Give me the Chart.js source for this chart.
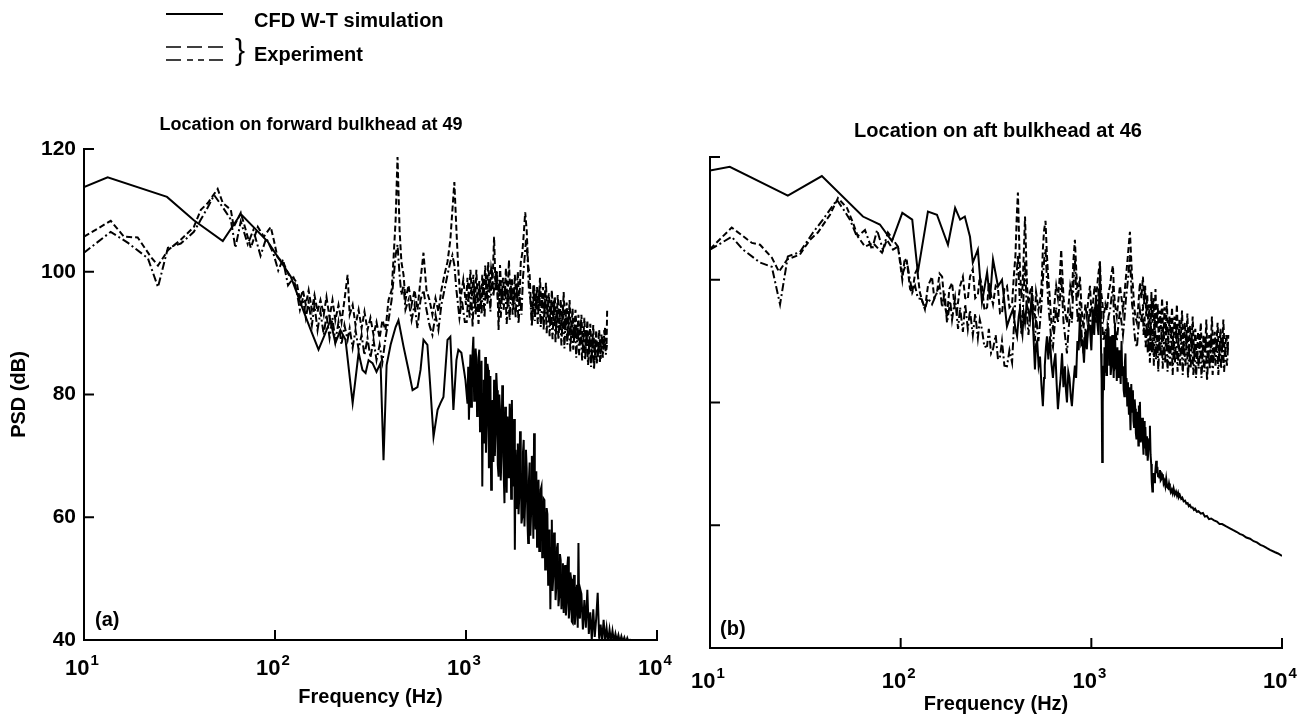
<!DOCTYPE html>
<html>
<head>
<meta charset="utf-8">
<script src="https://cdn.jsdelivr.net/npm/chart.js@4.4.1/dist/chart.umd.min.js"></script>
<style>
html, body { margin: 0; padding: 0; background: #fff; }
#wrap { position: relative; width: 1312px; height: 721px; overflow: hidden; background: #fff;
        font-family: "Liberation Sans", Arial, sans-serif; font-weight: bold; color: #000; }
canvas { position: absolute; left: 0; top: 0; }
.txt { position: absolute; white-space: nowrap; font-size: 20px; line-height: 24px; }
svg { position: absolute; left: 0; top: 0; }
</style>
</head>
<body>
<div id="wrap">
  <canvas id="chartA" width="1312" height="721"></canvas>
  <canvas id="chartB" width="1312" height="721"></canvas>
  <svg width="260" height="80">
    <line x1="166" y1="14" x2="223" y2="14" stroke="#000" stroke-width="1.8"/>
    <line x1="166" y1="47" x2="223" y2="47" stroke="#000" stroke-width="1.6" stroke-dasharray="15 6"/>
    <line x1="166" y1="60" x2="223" y2="60" stroke="#000" stroke-width="1.6" stroke-dasharray="15 6 6 5 6 5 15"/>
  </svg>
  <div class="txt" id="lg1" style="left:254px; top:8px;"></div>
  <div class="txt" style="left:235px; top:35px; font-size:30px; font-weight:normal; line-height:30px;">}</div>
  <div class="txt" id="lg2" style="left:254px; top:42px;"></div>
  <div class="txt" id="titleA" style="left:111px; top:112px; width:400px; text-align:center; font-size:18px;"></div>
  <div class="txt" id="titleB" style="left:798px; top:118px; width:400px; text-align:center;"></div>
  <div class="txt" style="left:95px; top:607px;">(a)</div>
  <div class="txt" style="left:720px; top:616px;">(b)</div>
</div>
<script>
// ---------------- data ----------------
const SERIES_LABELS = ['CFD W-T simulation', 'Experiment', 'Experiment'];
const LEGEND_TEXT = ['CFD W-T simulation', 'Experiment'];
const PANEL_TITLES = ['Location on forward bulkhead at 49', 'Location on aft bulkhead at 46'];
const X_TITLE = 'Frequency (Hz)';
const Y_TITLE = 'PSD (dB)';
const X_TICK_VALUES = [10, 100, 1000, 10000];
const Y_TICK_VALUES = [40, 60, 80, 100, 120];

// Panel (a): [frequency Hz, PSD dB]
const A_CFD = [
[10,113.8],[13.3,115.4],[27.2,112.2],[37.6,108.4],[53.3,105.0],[66.2,109.4],[91.6,104.9],[121,99.2],
[145,92.6],[154,90.5],[169,87.3],[182,89.7],[195,92.1],[207,88.4],[220,90.5],[234,88.9],[255,78.6],[274,86.8],
[287,84.0],[298,83.5],[309,85.6],[324,85.1],[340,83.7],[357,85.1],[370,69.3],[384,84.8],[403,88.1],[428,91.0],
[443,92.1],[471,87.8],[500,84.0],[525,80.7],[557,81.2],[578,84.0],[599,88.9],[628,88.1],[652,80.7],[676,73.1],
[710,77.5],[735,78.6],[762,79.6],[800,88.9],[828,89.4],[859,77.5],[891,85.6],[912,87.3],[946,86.8],[993,82.4],
[1018,78.5],[1027,84.5],[1036,75.9],[1045,82.0],[1055,86.5],[1064,78.0],[1074,81.0],[1083,87.0],[1093,89.4],
[1103,79.0],[1113,80.5],[1123,87.5],[1133,85.6],[1143,76.5],[1153,78.0],[1163,86.0],[1174,87.3],[1184,74.0],
[1195,79.1],[1206,85.5],[1217,65.0],[1228,80.0],[1239,82.4],[1250,72.0],[1261,86.1],[1272,70.5],[1284,75.9],
[1295,85.0],[1307,84.0],[1318,68.0],[1330,70.5],[1342,83.0],[1354,64.5],[1366,78.0],[1379,79.1],[1391,69.0],
[1403,82.4],[1416,70.0],[1429,74.2],[1441,83.5],[1454,80.7],[1467,68.5],[1481,66.6],[1494,80.0],[1507,77.5],
[1520,66.0],[1534,70.0],[1548,81.5],[1562,79.6],[1576,67.0],[1590,62.3],[1604,78.0],[1619,74.2],[1633,64.0],
[1648,76.4],[1663,66.5],[1678,68.5],[1693,78.5],[1708,75.9],[1723,63.0],[1739,79.1],[1754,65.0],[1770,67.7],
[1786,76.0],[1802,54.7],[1818,71.0],[1834,67.7],[1850,61.5],[1867,72.0],[1884,60.5],[1901,63.5],[1918,74.0],
[1935,69.8],[1952,59.0],[1970,60.0],[1987,70.5],[2005,72.6],[2023,58.5],[2041,62.8],[2060,71.0],[2078,68.0],
[2097,59.5],[2116,55.8],[2135,66.0],[2154,68.9],[2173,57.0],[2193,61.0],[2212,70.0],[2232,66.5],[2252,56.5],
[2272,73.7],[2292,62.0],[2313,58.0],[2334,67.5],[2355,55.2],[2376,63.5],[2397,66.1],[2418,54.5],[2440,59.0],
[2462,64.5],[2484,65.0],[2506,53.5],[2529,57.9],[2551,63.0],[2574,62.8],[2597,51.5],[2621,54.0],[2644,61.5],
[2668,60.5],[2692,49.0],[2716,52.5],[2740,58.0],[2765,45.0],[2789,55.0],[2814,59.6],[2839,48.0],[2865,50.5],
[2891,57.5],[2917,56.8],[2943,46.5],[2969,48.5],[2995,55.0],[3022,55.8],[3049,45.5],[3077,47.0],[3104,54.0],
[3132,53.0],[3160,45.0],[3188,49.8],[3217,52.5],[3246,44.4],[3275,51.0],[3304,52.2],[3334,44.0],[3364,46.0],
[3394,52.0],[3424,53.6],[3455,43.5],[3486,45.0],[3517,51.0],[3548,50.0],[3580,43.0],[3612,42.8],[3644,49.0],
[3677,50.6],[3710,42.5],[3743,44.0],[3777,48.5],[3811,49.0],[3845,42.0],[3879,55.8],[3914,44.5],[3949,43.5],
[3984,48.0],[4020,47.5],[4093,41.7],[4166,46.5],[4241,42.0],
[4318,48.2],[4395,41.0],[4474,44.5],[4555,40.0],[4637,45.0],[4720,40.5],[4805,43.5],[4892,47.7],[4980,40.2],
[5069,42.5],[5161,39.8],[5254,43.3],[5348,40.0],[5445,42.0],[5543,39.6],[5642,41.7],[5744,39.8],[5847,41.5],
[5953,39.7],[6060,41.0],[6169,39.8],[6280,40.8],[6393,39.6],[6508,40.6],[6625,39.7],[6745,40.4],[6866,39.6],
[6990,40.3],[7115,39.6],[7243,40.0],[7374,39.8]
];
const A_EXP1 = [
[10,105.7],[13.8,108.3],[16.2,105.7],[19.1,105.6],[22.4,102.4],[24.4,101.0],[27.5,103.5],[32.1,105.2],[37.6,107.3],
[40.9,110.1],[44.5,111.2],[50.1,113.5],[53.3,111.2],[58.7,110.1],[60.8,107.3],[66.2,109.6],[70.3,106.8],[74.7,103.9],
[81.3,107.3],[87.4,105.7],[95.0,107.3],[98.5,105.2],[103,102.4],[111,101.4],[118,99.5],[125,99.0],
[130,98.2],[135,95.4],[140,97.0],[145,94.6],[150,97.0],[156,93.8],[161,96.2],[167,93.5],[173,95.4],[180,93.0],
[186,95.9],[193,92.5],[200,95.4],[207,92.1],[215,94.6],[223,91.8],[231,95.4],[240,99.5],[246,93.0],[255,94.6],
[264,91.3],[274,93.8],[284,90.8],[294,93.5],[305,90.5],[316,92.5],[328,89.7],[340,91.8],[353,89.2],[365,92.1],
[379,90.5],[393,95.4],[408,97.0],[417,101.9],[428,108.4],[438,118.7],[449,106.8],[459,101.6],[471,99.5],[482,95.4],
[500,97.8],[519,94.6],[538,97.0],[557,93.8],[578,98.7],[599,103.1],[621,97.0],[644,95.4],[667,93.0],[692,95.7],
[717,93.5],[743,97.0],[771,99.5],[800,101.6],[828,105.2],[849,110.1],[869,114.6],[891,106.8],[912,100.3],[935,95.4],
[968,98.7],[1000,94.6],[1018,99.0],[1036,95.5],[1055,100.3],[1074,96.0],[1093,99.5],[1113,94.0],[1133,100.3],
[1153,95.0],[1174,98.5],[1195,93.8],[1217,99.5],[1239,96.2],[1261,101.0],[1284,95.5],[1307,101.6],[1330,97.0],
[1354,100.5],[1379,98.7],[1403,105.7],[1429,97.0],[1454,100.0],[1481,90.5],[1507,101.1],[1534,95.5],[1562,99.0],
[1590,96.0],[1619,100.6],[1648,94.5],[1678,101.9],[1708,95.4],[1739,99.0],[1770,94.0],[1802,99.5],[1834,95.4],
[1867,100.0],[1901,94.5],[1935,101.5],[1970,103.0],[2005,106.0],[2041,109.7],[2078,106.8],[2116,101.0],[2154,99.5],
[2193,94.0],[2232,92.1],[2272,97.8],[2313,94.0],[2355,97.5],[2397,93.5],[2440,99.0],[2484,94.0],[2529,97.5],
[2574,92.5],[2621,98.2],[2668,93.0],[2716,96.5],[2765,91.5],[2814,97.0],[2865,92.0],[2917,96.0],[2969,90.5],
[3022,96.2],[3077,91.3],[3132,95.5],[3188,90.0],[3246,96.7],[3304,90.5],[3364,95.0],[3424,89.5],[3486,95.4],
[3548,89.7],[3612,94.0],[3677,88.5],[3743,93.8],[3811,89.0],[3879,93.0],[3949,88.0],[4020,93.0],[4093,87.3],
[4166,92.5],[4241,87.0],[4318,92.1],[4395,86.4],[4474,91.5],[4555,86.0],[4637,91.3],[4720,85.6],[4805,90.5],
[4892,86.0],[4980,90.5],[5069,85.8],[5161,89.5],[5254,87.3],[5348,91.0],[5445,88.0],[5483,93.8]
];
const A_EXP2 = [
[10,103.1],[13.8,106.5],[17.0,104.7],[21.6,102.2],[24.4,97.5],[27.5,103.9],[32.1,104.6],[37.6,106.5],[40.9,108.5],
[44.5,110.5],[48.0,112.5],[53.3,110.5],[58.7,108.5],[62.0,103.9],[66.2,108.2],[72.0,104.5],[77.0,106.8],[84.0,102.6],
[90.0,105.5],[98.0,103.0],[104,100.2],[110,102.0],[117,97.8],[125,99.0],
[130,96.7],[135,93.8],[140,95.7],[145,92.5],[150,95.0],[156,91.3],[161,94.6],[167,90.5],[173,93.5],[180,89.7],
[186,93.0],[193,89.2],[200,92.5],[207,88.6],[215,91.8],[223,88.1],[231,91.3],[240,88.9],[246,90.8],[255,87.6],
[264,90.5],[274,87.3],[284,89.7],[294,86.4],[305,89.2],[316,86.0],[328,88.9],[340,85.6],[353,88.1],[365,85.3],
[379,89.2],[393,92.1],[408,95.4],[417,98.7],[428,102.7],[438,104.4],[449,99.5],[459,96.2],[471,97.8],[482,93.8],
[500,95.4],[519,92.1],[538,94.6],[557,90.8],[578,95.4],[599,97.0],[621,93.8],[644,91.3],[667,89.7],[692,93.0],
[717,90.5],[743,94.6],[771,97.0],[800,99.5],[828,101.6],[849,102.7],[869,101.1],[891,97.0],[924,92.5],[951,95.4],
[986,91.8],[1009,91.8],[1027,96.2],[1045,92.5],[1064,97.0],[1083,91.0],[1103,97.8],[1123,93.0],[1143,96.5],
[1163,91.5],[1184,97.0],[1206,93.0],[1228,98.0],[1250,92.5],[1272,98.7],[1295,94.6],[1318,99.0],[1342,93.5],
[1366,100.3],[1391,96.0],[1416,98.5],[1441,100.3],[1467,95.4],[1494,98.7],[1520,92.5],[1548,97.0],[1576,93.8],
[1604,97.8],[1633,91.5],[1663,96.5],[1693,92.1],[1723,98.7],[1754,93.0],[1786,97.0],[1818,92.5],[1850,97.5],
[1884,91.5],[1918,96.0],[1952,93.0],[1987,99.0],[2023,101.9],[2060,105.2],[2097,102.7],[2135,97.0],[2173,95.4],
[2212,91.0],[2252,97.8],[2292,92.0],[2334,96.5],[2376,91.5],[2418,97.0],[2462,91.0],[2506,96.0],[2551,90.5],
[2597,97.0],[2644,90.0],[2692,95.4],[2740,89.5],[2789,94.5],[2839,89.0],[2891,95.4],[2943,88.5],[2995,94.0],
[3049,88.9],[3104,93.5],[3160,88.0],[3217,94.6],[3275,87.5],[3334,93.0],[3394,88.1],[3455,93.8],[3517,87.0],
[3580,92.0],[3644,87.3],[3710,92.5],[3777,86.0],[3845,91.0],[3914,86.4],[3984,91.3],[4056,85.5],[4129,90.0],
[4203,85.6],[4279,90.5],[4356,84.8],[4434,89.5],[4514,84.5],[4596,89.7],[4678,84.0],[4762,89.2],[4848,85.0],
[4936,88.5],[5024,85.3],[5115,90.0],[5207,86.0],[5300,90.5],[5396,86.5],[5470,88.1]
];

// Panel (b): [frequency Hz, PSD dB]
const B_CFD = [
[10,117.8],[12.7,118.4],[25.6,113.7],[38.6,116.9],[63.4,110.3],[77.8,109.0],[90.0,106.3],[102,110.9],[115,109.8],
[123,101.2],[139,111.1],[155,110.6],[177,105.7],[193,111.7],[205,109.8],[217,110.3],[231,107.0],[239,102.8],[254,104.9],
[267,96.3],[284,101.2],[294,96.8],[305,103.3],[324,98.9],[340,100.0],[361,92.4],[375,94.0],[388,95.2],[400,92.0],
[408,90.8],[416,94.0],[422,95.2],[430,92.0],[435,91.0],[442,94.5],[449,93.0],[458,96.0],[468,95.0],[477,93.5],
[488,97.9],[497,91.0],[506,85.4],[513,89.5],[520,90.0],[529,86.0],[538,87.5],[547,83.0],[557,79.4],[565,84.0],
[570,86.0],[578,89.0],[585,90.8],[595,87.0],[606,90.8],[617,86.5],[629,84.0],[638,86.5],[648,88.0],[658,83.0],
[668,78.9],[678,81.5],[690,84.0],[702,88.0],[714,82.5],[727,85.9],[736,82.0],[745,80.0],[757,85.0],[768,84.0],
[780,81.0],[791,79.4],[805,83.0],[820,86.0],[832,84.0],[845,90.0],[858,88.5],[871,94.0],[885,89.5],[900,90.0],
[915,86.5],[930,91.5],[947,88.7],[965,93.0],[984,92.0],[1000,88.5],[1019,95.2],[1035,91.0],[1050,96.0],[1060,97.0],
[1075,93.0],[1090,91.0],[1100,98.0],[1109,102.8],[1118,95.0],[1125,88.0],[1132,84.0],[1140,70.3],[1148,80.0],
[1155,86.0],[1165,82.0],[1172,89.0],[1180,85.0],[1190,91.0],[1200,84.5],[1208,87.5],[1218,92.5],[1230,92.0],
[1240,86.0],[1253,90.8],[1263,84.5],[1275,86.0],[1287,91.0],[1298,88.0],[1310,84.0],[1320,90.5],[1330,93.0],
[1340,86.5],[1350,87.0],[1360,83.5],[1370,89.0],[1380,85.5],[1390,84.0],[1400,88.5],[1413,87.5],[1425,83.0],
[1440,90.0],[1452,84.5],[1465,85.9],[1478,82.0],[1490,81.0],[1500,86.5],[1510,88.0],[1520,82.0],[1530,84.0],
[1543,79.5],[1556,83.3],[1565,80.5],[1575,78.0],[1585,82.5],[1594,78.9],[1605,75.5],[1620,83.0],[1635,78.5],
[1652,82.0],[1663,77.0],[1675,76.0],[1688,80.5],[1700,79.0],[1712,75.0],[1725,74.0],[1740,78.5],[1754,76.8],
[1765,73.0],[1775,79.5],[1787,75.0],[1798,80.1],[1815,73.5],[1830,74.5],[1848,77.5],[1865,73.6],[1878,71.5],
[1890,77.0],[1905,72.5],[1920,76.0],[1940,71.5],[1958,74.5],[1975,70.5],[1990,72.0],[2010,74.0],[2029,76.2],
[2045,71.5],[2060,70.0],[2075,67.0],[2090,65.5],[2105,67.5],[2120,68.5],[2140,67.0],[2157,68.0],[2175,69.5],
[2190,70.5],[2205,68.5],[2220,69.5],[2238,68.0],[2255,68.5],[2272,67.8],[2291,69.0],[2310,67.3],[2330,67.5],
[2350,68.3],[2374,68.0],[2395,66.8],[2420,67.2],[2445,66.4],[2470,67.6],[2500,66.2],[2530,66.0],[2555,66.8],
[2582,66.0],[2610,65.4],[2640,65.8],[2670,65.2],[2700,66.0],[2740,65.0],[2780,65.5],[2815,64.8],[2850,65.3],
[2880,64.6],[2915,64.9],[2960,64.3],[3000,64.5],[3050,63.9],[3100,64.0],[3150,63.5],[3200,63.6],[3245,63.1],
[3289,63.3],[3340,62.9],[3400,62.9],[3450,62.5],[3500,62.7],[3575,62.2],[3650,62.3],[3750,61.9],[3848,62.0],
[3940,61.4],[4036,61.5],[4140,61.0],[4250,61.1],[4400,60.8],[4557,60.6],[4700,60.2],[4850,60.2],[5100,59.8],
[5330,59.5],[5550,59.2],[5800,58.9],[6000,58.6],[6237,58.4],[6500,58.0],[6800,57.8],[7100,57.4],[7382,57.2],
[7700,56.8],[8000,56.6],[8300,56.3],[8647,56.0],[9200,55.6],[9529,55.4],[10000,55.0]
];
const B_EXP1 = [
[10,105.0],[13.0,108.5],[16.6,106.0],[18.3,105.7],[21.1,103.6],[23.0,101.3],[25.4,103.3],[29.6,104.1],[33.4,106.5],
[36.8,107.7],[42.6,110.6],[46.9,113.3],[52.3,111.7],[56.2,109.3],[59.7,107.0],[65.0,105.4],[71.6,106.0],[79.8,104.4],
[84.7,106.5],[91.2,104.9],[96.8,105.4],
[102,100.0],[105,103.5],[108,102.8],[112,98.5],[115,97.9],[119,101.0],[122,101.7],[126,98.0],[129,96.8],[134,95.2],
[139,99.0],[146,100.5],[150,97.0],[155,97.9],[160,101.0],[165,100.5],[170,96.0],[175,94.0],[180,98.5],[186,99.5],
[192,95.5],[197,94.7],[205,99.0],[212,100.5],[218,97.0],[225,96.8],[231,100.5],[239,101.7],[246,97.0],[254,97.5],
[260,100.5],[267,99.0],[275,95.0],[284,95.5],[290,99.5],[298,97.5],[305,96.0],[315,99.0],[324,98.5],[332,94.5],
[340,94.5],[350,98.5],[361,99.0],[372,95.5],[384,96.0],[392,100.5],[400,104.0],[406,110.0],[412,114.2],[417,108.0],
[422,102.0],[430,97.0],[436,99.0],[442,104.0],[449,110.3],[455,104.0],[460,99.0],[468,96.0],[477,98.0],[488,99.0],
[497,95.0],[506,94.0],[513,98.0],[519,97.0],[528,95.0],[538,96.5],[548,99.0],[557,105.0],[565,108.0],[575,109.6],
[585,104.0],[595,100.0],[606,97.0],[617,93.0],[629,92.0],[640,96.0],[654,99.0],[668,97.0],[685,101.0],[695,104.9],
[702,102.0],[715,97.0],[727,95.0],[745,93.0],[760,96.0],[775,99.0],[791,97.5],[805,103.0],[820,106.5],[835,101.0],
[850,97.0],[871,100.5],[890,95.0],[910,92.0],[930,96.0],[947,94.0],[965,97.0],[984,99.0],[1000,95.0],[1019,96.0],
[1040,99.0],[1060,97.0],[1085,100.5],[1109,103.0],[1125,98.0],[1137,97.0],[1160,94.0],[1185,96.0],[1208,95.0],[1230,98.0],
[1253,99.0],[1275,101.0],[1298,102.3],[1315,98.0],[1330,96.0],[1360,94.0],[1390,97.0],[1413,99.0],[1440,97.0],[1465,95.0],
[1490,97.5],[1520,100.5],[1556,104.0],[1575,106.0],[1594,107.8],[1615,104.0],[1635,100.5],[1652,99.0],[1675,96.0],[1700,94.0],
[1734,93.0],[1765,96.0],[1798,99.5],[1830,97.0],[1865,100.5],[1890,96.0],[1915,99.0],[1940,94.0],[1965,97.5],[1990,92.0],
[2015,96.0],[2040,90.0],[2065,98.0],[2090,93.0],[2115,97.0],[2140,91.0],[2170,98.5],[2200,92.0],[2230,96.0],[2260,89.0],
[2290,95.0],[2320,92.0],[2350,97.0],[2385,90.0],[2420,95.5],[2455,91.0],[2490,96.5],[2530,89.5],[2570,94.0],[2610,90.5],
[2650,95.5],[2690,88.5],[2730,94.0],[2770,91.0],[2810,96.0],[2855,89.0],[2900,93.5],[2945,90.0],[2990,95.0],[3040,88.0],
[3090,93.0],[3140,89.5],[3190,94.5],[3240,87.5],[3290,92.5],[3345,89.0],[3400,94.0],[3455,88.0],[3510,92.0],[3570,87.0],
[3630,91.5],[3690,88.5],[3750,93.0],[3815,87.0],[3880,91.0],[3945,88.0],[4010,93.5],[4080,86.5],[4150,91.0],[4220,88.0],
[4290,94.0],[4365,87.0],[4440,91.5],[4515,88.5],[4595,93.0],[4675,87.0],[4755,92.0],[4840,88.0],[4925,93.5],[5010,87.5],
[5100,91.0],[5190,88.5],[5230,91.0]
];
const B_EXP2 = [
[10,104.9],[13.0,107.0],[14.9,104.9],[18.3,102.8],[21.1,102.1],[23.3,96.0],[25.6,103.8],[29.6,104.5],[34.7,107.7],
[39.1,109.8],[46.3,113.0],[50,111.5],[54.2,109.8],[59.0,107.0],[65.0,108.1],[70.8,104.9],[75.2,108.1],[80.7,104.9],
[85.7,107.7],[96.8,105.4],[102,101.0],[108,102.8],[115,97.9],[119,99.0],[123,97.0],[129,96.8],[134,95.2],[139,97.0],
[146,96.0],[155,97.9],
[160,99.0],[165,95.5],[170,98.0],[175,93.0],[182,96.5],[186,93.5],[193,97.0],[200,92.0],[205,95.5],[212,91.5],
[218,96.0],[225,92.0],[231,95.0],[239,91.0],[246,94.5],[254,90.5],[260,93.5],[267,91.9],[275,89.0],[284,89.2],
[290,92.0],[298,88.0],[305,88.7],[315,91.0],[324,87.0],[332,87.5],[340,90.0],[350,86.0],[361,85.9],[372,88.5],
[384,86.5],[392,92.0],[400,97.0],[406,101.0],[412,104.0],[417,100.0],[422,96.0],[430,91.0],[436,94.0],[442,98.0],
[449,103.0],[455,98.0],[460,94.0],[468,91.0],[477,94.5],[488,97.0],[497,92.0],[506,90.0],[513,94.0],[519,92.5],
[528,90.0],[538,93.0],[548,96.0],[557,100.0],[565,103.0],[575,105.0],[585,100.0],[595,96.0],[606,93.0],[617,90.0],
[629,89.0],[640,92.0],[654,95.5],[668,93.0],[685,97.0],[695,100.5],[702,98.0],[715,93.0],[727,91.0],[745,88.0],
[760,92.0],[775,95.0],[791,93.0],[805,99.0],[820,103.5],[835,97.0],[850,93.0],[871,96.5],[890,91.0],[910,88.0],
[930,92.0],[947,90.0],[965,93.0],[984,95.5],[1000,91.0],[1019,92.0],[1040,95.5],[1060,93.0],[1085,97.0],[1109,100.0],
[1125,94.5],[1137,93.0],[1160,90.0],[1185,92.0],[1208,91.0],[1230,94.0],[1253,95.0],[1275,97.0],[1298,99.0],[1315,94.0],
[1330,92.0],[1360,90.0],[1390,93.0],[1413,95.0],[1440,93.0],[1465,91.0],[1490,93.5],[1520,97.0],[1556,100.0],[1575,102.0],
[1594,104.0],[1615,100.0],[1635,96.0],[1652,95.0],[1675,92.0],[1700,90.0],[1734,89.0],[1765,92.0],[1798,95.0],[1830,93.0],
[1865,96.0],[1878,91.0],[1903,94.0],[1928,89.0],[1953,93.0],[1978,88.0],[2003,92.0],[2028,86.5],[2053,93.0],[2078,88.0],
[2103,92.0],[2128,86.0],[2155,93.5],[2185,87.0],[2215,91.0],[2245,85.0],[2275,90.5],[2305,87.5],[2335,92.0],[2368,85.5],
[2403,91.0],[2438,86.5],[2473,92.0],[2510,85.0],[2550,90.0],[2590,86.0],[2630,91.5],[2670,84.5],[2710,90.0],[2750,86.5],
[2790,92.0],[2833,85.0],[2878,89.5],[2923,86.0],[2968,91.0],[3015,84.5],[3065,89.5],[3115,86.0],[3165,91.0],[3215,84.0],
[3265,89.0],[3318,85.5],[3373,90.5],[3428,84.5],[3483,89.0],[3540,84.0],[3600,88.5],[3660,85.5],[3720,90.0],[3783,84.0],
[3848,88.5],[3913,85.0],[3978,90.5],[4045,83.5],[4115,88.5],[4185,85.5],[4255,91.0],[4328,84.5],[4403,89.0],[4478,86.0],
[4555,90.5],[4635,84.5],[4715,89.5],[4798,85.5],[4883,91.0],[4968,85.0],[5055,88.5],[5145,86.0],[5210,89.0]
];

// ---------------- text ----------------
document.getElementById('lg1').textContent = LEGEND_TEXT[0];
document.getElementById('lg2').textContent = LEGEND_TEXT[1];
document.getElementById('titleA').textContent = PANEL_TITLES[0];
document.getElementById('titleB').textContent = PANEL_TITLES[1];

// ---------------- chart helpers ----------------
const FONT = '"Liberation Sans", Arial, sans-serif';
Chart.defaults.font.family = FONT;
Chart.defaults.color = '#000';

const toXY = arr => arr.map(p => ({ x: p[0], y: p[1] }));

// inward tick marks + "10^n" tick labels, placed through the chart's own scales
const psdAxes = {
  id: 'psdAxes',
  afterDraw(chart, args, o) {
    const ctx = chart.ctx, xs = chart.scales.x, ys = chart.scales.y;
    const xb = ys.getPixelForValue(ys.min), xl = xs.getPixelForValue(xs.min);
    ctx.save();
    ctx.strokeStyle = '#000';
    ctx.lineWidth = 2;
    xs.ticks.forEach(t => {
      if (t.value <= xs.min) return;
      const px = xs.getPixelForValue(t.value);
      ctx.beginPath(); ctx.moveTo(px, xb); ctx.lineTo(px, xb - o.tickLen); ctx.stroke();
    });
    ys.ticks.forEach(t => {
      if (t.value <= ys.min) return;
      const py = ys.getPixelForValue(t.value);
      ctx.beginPath(); ctx.moveTo(xl, py); ctx.lineTo(xl + o.tickLen, py); ctx.stroke();
    });
    ctx.fillStyle = '#000';
    ctx.textAlign = 'left';
    ctx.textBaseline = 'alphabetic';
    xs.ticks.forEach(t => {
      const px = xs.getPixelForValue(t.value);
      const exp = String(Math.round(Math.log10(t.value)));
      ctx.font = 'bold ' + o.baseSize + 'px ' + FONT;
      const w1 = ctx.measureText('10').width;
      ctx.font = 'bold ' + o.expSize + 'px ' + FONT;
      const w2 = ctx.measureText(exp).width;
      const x0 = px - (w1 + w2 + 1) / 2 - 2;
      ctx.font = 'bold ' + o.baseSize + 'px ' + FONT;
      ctx.fillText('10', x0, xb + o.labelOffset);
      ctx.font = 'bold ' + o.expSize + 'px ' + FONT;
      ctx.fillText(exp, x0 + w1 + 1, xb + o.labelOffset - 10);
    });
    ctx.restore();
  }
};

function lineSets(cfd, e1, e2) {
  const base = { borderColor: '#000', pointRadius: 0, tension: 0, fill: false };
  return [
    Object.assign({ label: SERIES_LABELS[0], data: toXY(cfd), borderWidth: 2 }, base),
    Object.assign({ label: SERIES_LABELS[1], data: toXY(e1), borderWidth: 2, borderDash: [6, 3] }, base),
    Object.assign({ label: SERIES_LABELS[2], data: toXY(e2), borderWidth: 2, borderDash: [8, 3, 2, 3] }, base)
  ];
}

function makeChart(id, datasets, g) {
  return new Chart(document.getElementById(id), {
    type: 'line',
    data: { datasets },
    plugins: [psdAxes],
    options: {
      responsive: false,
      animation: false,
      devicePixelRatio: 1,
      layout: { padding: g.padding },
      plugins: {
        legend: { display: false },
        tooltip: { enabled: false },
        psdAxes: { tickLen: 10, labelOffset: g.labelOffset, baseSize: 22, expSize: 15 }
      },
      scales: {
        x: {
          type: 'logarithmic', min: 10, max: 10000,
          afterBuildTicks: s => { s.ticks = X_TICK_VALUES.map(v => ({ value: v })); },
          afterFit: s => { s.height = g.xHeight; },
          ticks: { display: false },
          grid: { display: false, drawTicks: false },
          border: { display: true, color: '#000', width: 2 },
          title: { display: true, text: X_TITLE, color: '#000',
                   font: { family: FONT, size: 20, weight: 'bold' },
                   padding: { top: 0, bottom: g.xTitlePad } }
        },
        y: {
          type: 'linear', min: 40, max: 120,
          afterBuildTicks: s => { s.ticks = Y_TICK_VALUES.map(v => ({ value: v })); },
          afterFit: s => { s.width = g.yWidth; },
          ticks: { display: g.yLabels, color: '#000', padding: 8,
                   font: { family: FONT, size: 21, weight: 'bold' } },
          grid: { display: false, drawTicks: false },
          border: { display: true, color: '#000', width: 2 },
          title: { display: g.yLabels, text: Y_TITLE, color: '#000',
                   font: { family: FONT, size: 20, weight: 'bold' },
                   padding: { top: 7, bottom: 0 } }
        }
      }
    }
  });
}

makeChart('chartA', lineSets(A_CFD, A_EXP1, A_EXP2), {
  padding: { left: 0, top: 149, right: 655, bottom: 0 },
  xHeight: 81, yWidth: 84, yLabels: true, labelOffset: 35, xTitlePad: 12
});
makeChart('chartB', lineSets(B_CFD, B_EXP1, B_EXP2), {
  padding: { left: 708, top: 157, right: 30, bottom: 0 },
  xHeight: 73, yWidth: 2, yLabels: false, labelOffset: 40, xTitlePad: 5
});
</script>
</body>
</html>
